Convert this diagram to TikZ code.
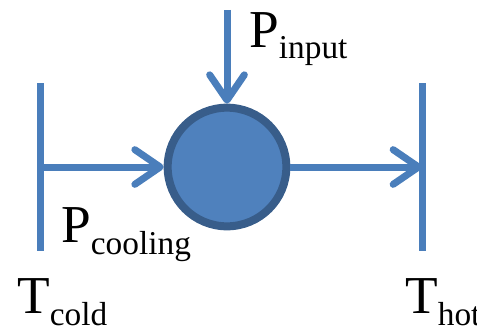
\documentclass[tikz,border=0pt]{standalone}
\usepackage{fontspec}
\setmainfont{Liberation Serif}
\usetikzlibrary{arrows.meta}

\definecolor{flowblue}{HTML}{4A7EBB}
\definecolor{corefill}{HTML}{4F81BD}
\definecolor{coreedge}{HTML}{385D8A}

\newcommand{\lowsub}[1]{\raisebox{-9pt}{\fontsize{25}{25}\selectfont #1}}

\tikzset{
 flow/.style={line width=5.25pt, draw=flowblue, -{Straight Barb[length=19pt,width=26pt,round]}},
 bar/.style={line width=5.25pt, draw=flowblue},
 label/.style={anchor=base west, inner sep=0pt, font=\fontsize{40}{40}\selectfont}
}

\begin{document}
\begin{tikzpicture}[x=0.75pt,y=-0.75pt]
 \useasboundingbox (0,0) rectangle (477,328);
 \clip (0,0) rectangle (477,328);

 %points on the bars
 \coordinate (coldtop) at (40,83);
 \coordinate (coldbot) at (40,251);
 \coordinate (coldmid) at (40,167);
 \coordinate (hottop) at (422,83);
 \coordinate (hotbot) at (422,251);
 \coordinate (hotmid) at (422,167);
 \coordinate (inputsrc) at (227,10);

 %the core
 \node (core) [circle, inner sep=0pt, minimum size=89pt, line width=6pt,
  draw=coreedge, fill=corefill] at (227,167) {};

 %draw bars
 \draw [bar] (coldtop) -- (coldbot);
 \draw [bar] (hottop) -- (hotbot);

 %draw flows
 \draw [flow] (inputsrc) -- (core);
 \draw [flow] (coldmid) -- (core);
 \draw [flow] (core) -- (hotmid);

 %labels
 \node (pinput) [label] at (249,47) {P\lowsub{input}};
 \node (pcooling) [label] at (61,242) {P\lowsub{cooling}};
 \node (tcold) [label] at (17,313) {T\lowsub{cold}};
 \node (thot) [label] at (405,313) {T\lowsub{hot}};
\end{tikzpicture}
\end{document}
